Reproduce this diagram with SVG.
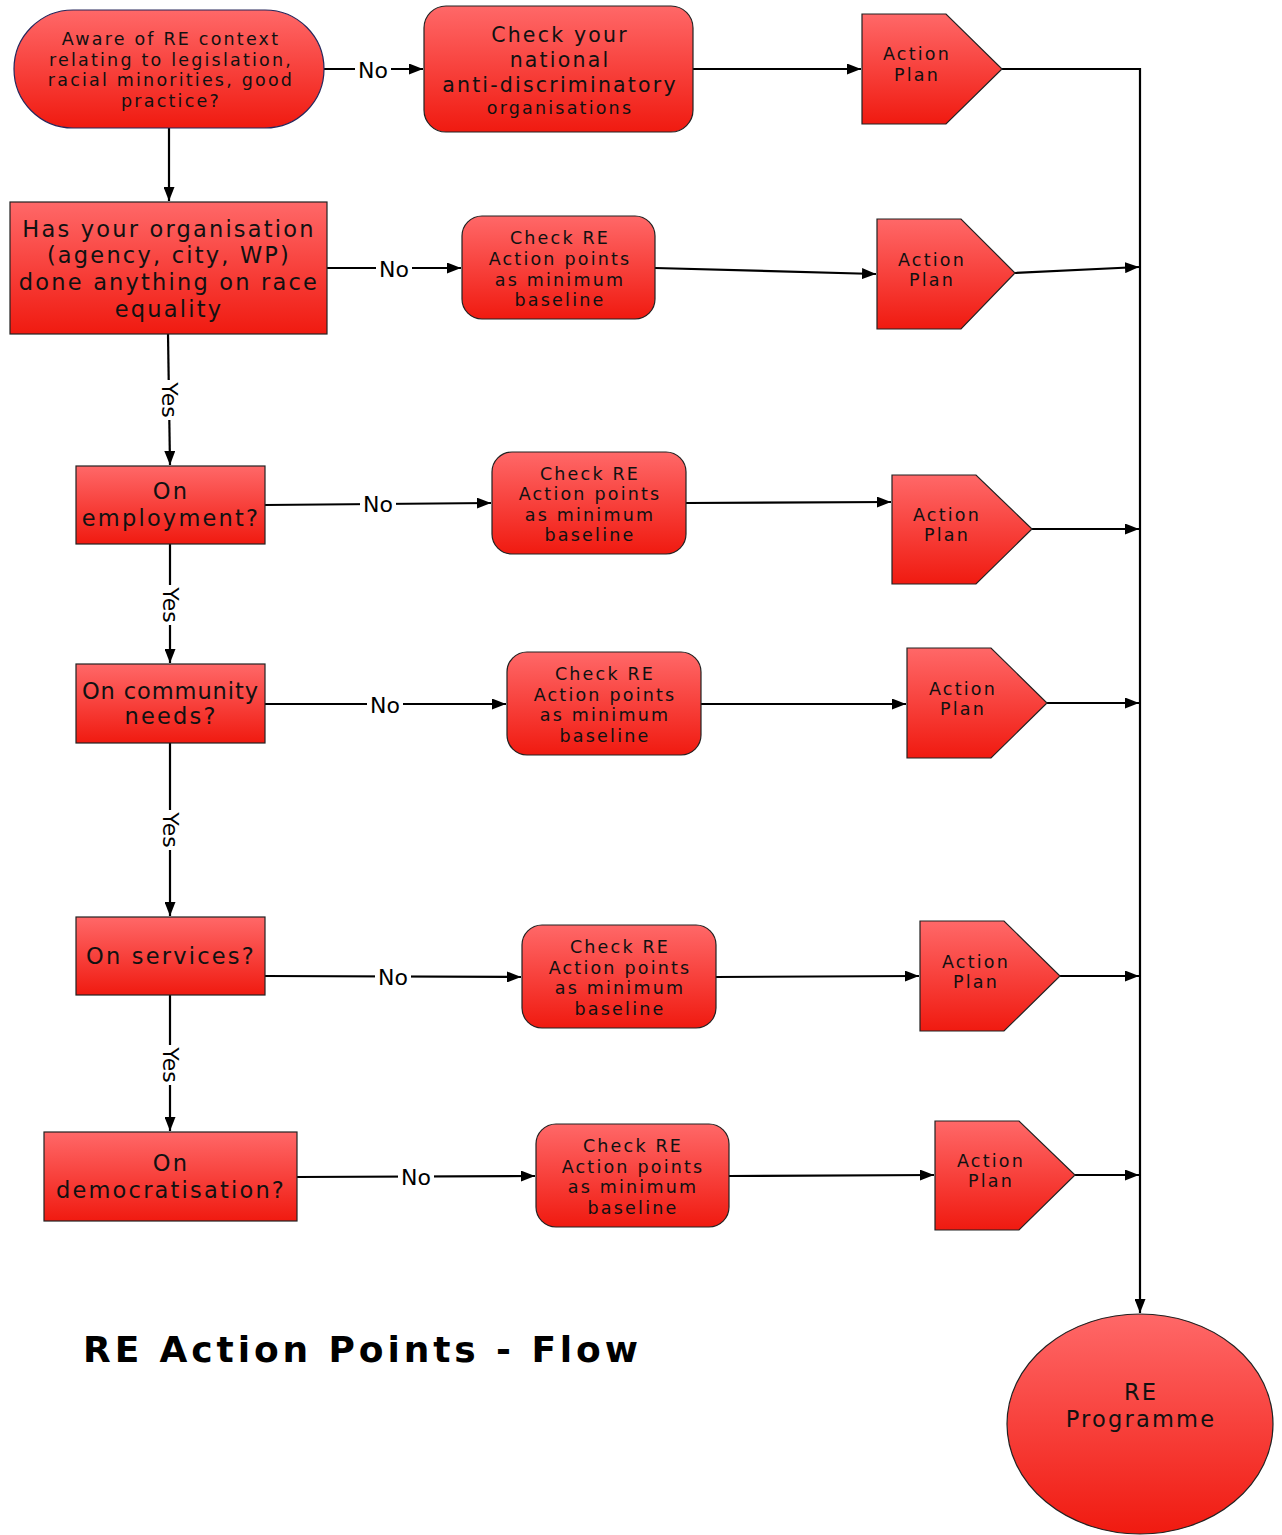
<svg xmlns="http://www.w3.org/2000/svg" width="1282" height="1535" viewBox="0 0 1282 1535">
<defs>
<linearGradient id="g" x1="0" y1="0" x2="0" y2="1">
<stop offset="0" stop-color="#ff6868"/>
<stop offset="1" stop-color="#f01a10"/>
</linearGradient>
<marker id="ah" viewBox="0 0 14 11" refX="14" refY="5.5" markerWidth="14" markerHeight="11" markerUnits="userSpaceOnUse" orient="auto">
<path d="M0,0 L14,5.5 L0,11 Z" fill="#000"/>
</marker>
<style>
.n{fill:url(#g);stroke:#222;stroke-width:1.2}
.t{font-family:"DejaVu Sans",Verdana,sans-serif;fill:#111;text-anchor:middle;letter-spacing:2.2px}
.s17{font-size:17.5px}
.s20{font-size:20.5px}
.s22{font-size:22.5px}
.c{fill:none;stroke:#000;stroke-width:2.2}
.a{marker-end:url(#ah)}
.l{font-family:"DejaVu Sans",Verdana,sans-serif;font-size:22px;fill:#000;text-anchor:middle;dominant-baseline:central}
.lb{fill:#fff}
</style>
</defs>

<g id="connectors">
<line class="c a" x1="324" y1="69" x2="423" y2="69"/>
<line class="c a" x1="693" y1="69" x2="861" y2="69"/>
<polyline class="c a" points="1002,69 1140,69 1140,1313"/>
<line class="c a" x1="169" y1="128" x2="169" y2="201"/>
<line class="c a" x1="327" y1="268" x2="461" y2="268"/>
<line class="c a" x1="655" y1="268" x2="876" y2="274"/>
<line class="c a" x1="1015" y1="273" x2="1139" y2="267"/>
<line class="c a" x1="168" y1="334" x2="170" y2="465"/>
<line class="c a" x1="265" y1="505" x2="491" y2="503"/>
<line class="c a" x1="686" y1="503" x2="891" y2="502"/>
<line class="c a" x1="1032" y1="529" x2="1139" y2="529"/>
<line class="c a" x1="170" y1="544" x2="170" y2="663"/>
<line class="c a" x1="265" y1="704" x2="506" y2="704"/>
<line class="c a" x1="701" y1="704" x2="906" y2="704"/>
<line class="c a" x1="1047" y1="703" x2="1139" y2="703"/>
<line class="c a" x1="170" y1="743" x2="170" y2="916"/>
<line class="c a" x1="265" y1="976" x2="521" y2="977"/>
<line class="c a" x1="716" y1="977" x2="919" y2="976"/>
<line class="c a" x1="1060" y1="976" x2="1139" y2="976"/>
<line class="c a" x1="170" y1="995" x2="170" y2="1131"/>
<line class="c a" x1="297" y1="1177" x2="535" y2="1176"/>
<line class="c a" x1="729" y1="1176" x2="934" y2="1175"/>
<line class="c a" x1="1075" y1="1175" x2="1139" y2="1175"/>
<!-- labels -->
<rect class="lb" x="355" y="58" width="36" height="22"/><text class="l" x="373" y="70">No</text>
<rect class="lb" x="376" y="257" width="36" height="22"/><text class="l" x="394" y="269">No</text>
<rect class="lb" x="360" y="493" width="36" height="22"/><text class="l" x="378" y="504">No</text>
<rect class="lb" x="367" y="693" width="36" height="22"/><text class="l" x="385" y="705">No</text>
<rect class="lb" x="375" y="966" width="36" height="22"/><text class="l" x="393" y="977">No</text>
<rect class="lb" x="398" y="1165" width="36" height="22"/><text class="l" x="416" y="1177">No</text>
<g transform="translate(169,400) rotate(90)"><rect class="lb" x="-20" y="-11" width="40" height="22"/><text class="l" x="0" y="0">Yes</text></g>
<g transform="translate(170,605) rotate(90)"><rect class="lb" x="-20" y="-11" width="40" height="22"/><text class="l" x="0" y="0">Yes</text></g>
<g transform="translate(170,830) rotate(90)"><rect class="lb" x="-20" y="-11" width="40" height="22"/><text class="l" x="0" y="0">Yes</text></g>
<g transform="translate(170,1065) rotate(90)"><rect class="lb" x="-20" y="-11" width="40" height="22"/><text class="l" x="0" y="0">Yes</text></g>
</g>

<g id="aware">
<rect class="n" x="14" y="10" width="310" height="118" rx="59" ry="59" style="stroke:#26265a"/>
<text class="t s17" x="171" y="45">Aware of RE context</text>
<text class="t s17" x="171" y="66">relating to legislation,</text>
<text class="t s17" x="171" y="86">racial minorities, good</text>
<text class="t s17" x="171" y="107">practice?</text>
</g>

<g id="check-national">
<rect class="n" x="424" y="6" width="269" height="126" rx="22" ry="22"/>
<text class="t s20" x="560" y="42">Check your</text>
<text class="t s20" x="560" y="67">national</text>
<text class="t s20" x="560" y="92">anti-discriminatory</text>
<text class="t s17" x="560" y="114">organisations</text>
</g>

<g id="action1">
<polygon class="n" points="862,14 946,14 1002,69 946,124 862,124"/>
<text class="t s17" x="917" y="60">Action</text>
<text class="t s17" x="917" y="81">Plan</text>
</g>

<g id="has-org">
<rect class="n" x="10" y="202" width="317" height="132"/>
<text class="t s22" x="169" y="237">Has your organisation</text>
<text class="t s22" x="169" y="263">(agency, city, WP)</text>
<text class="t s22" x="169" y="290">done anything on race</text>
<text class="t s22" x="169" y="317">equality</text>
</g>

<g id="check1">
<rect class="n" x="462" y="216" width="193" height="103" rx="20" ry="20"/>
<text class="t s17" x="560" y="244">Check RE</text>
<text class="t s17" x="560" y="265">Action points</text>
<text class="t s17" x="560" y="286">as minimum</text>
<text class="t s17" x="560" y="306">baseline</text>
</g>

<g id="action2">
<polygon class="n" points="877,219 961,219 1015,273 961,329 877,329"/>
<text class="t s17" x="932" y="266">Action</text>
<text class="t s17" x="932" y="286">Plan</text>
</g>

<g id="employment">
<rect class="n" x="76" y="466" width="189" height="78"/>
<text class="t s22" x="171" y="499">On</text>
<text class="t s22" x="171" y="526">employment?</text>
</g>

<g id="check2">
<rect class="n" x="492" y="452" width="194" height="102" rx="20" ry="20"/>
<text class="t s17" x="590" y="480">Check RE</text>
<text class="t s17" x="590" y="500">Action points</text>
<text class="t s17" x="590" y="521">as minimum</text>
<text class="t s17" x="590" y="541">baseline</text>
</g>

<g id="action3">
<polygon class="n" points="892,475 976,475 1032,529 976,584 892,584"/>
<text class="t s17" x="947" y="521">Action</text>
<text class="t s17" x="947" y="541">Plan</text>
</g>

<g id="community">
<rect class="n" x="76" y="664" width="189" height="79"/>
<text class="t s22" x="170" y="699" textLength="176" lengthAdjust="spacing" style="letter-spacing:0">On community</text>
<text class="t s22" x="171" y="724">needs?</text>
</g>

<g id="check3">
<rect class="n" x="507" y="652" width="194" height="103" rx="20" ry="20"/>
<text class="t s17" x="605" y="680">Check RE</text>
<text class="t s17" x="605" y="701">Action points</text>
<text class="t s17" x="605" y="721">as minimum</text>
<text class="t s17" x="605" y="742">baseline</text>
</g>

<g id="action4">
<polygon class="n" points="907,648 991,648 1047,703 991,758 907,758"/>
<text class="t s17" x="963" y="695">Action</text>
<text class="t s17" x="963" y="715">Plan</text>
</g>

<g id="services">
<rect class="n" x="76" y="917" width="189" height="78"/>
<text class="t s22" x="171" y="964">On services?</text>
</g>

<g id="check4">
<rect class="n" x="522" y="925" width="194" height="103" rx="20" ry="20"/>
<text class="t s17" x="620" y="953">Check RE</text>
<text class="t s17" x="620" y="974">Action points</text>
<text class="t s17" x="620" y="994">as minimum</text>
<text class="t s17" x="620" y="1015">baseline</text>
</g>

<g id="action5">
<polygon class="n" points="920,921 1004,921 1060,976 1004,1031 920,1031"/>
<text class="t s17" x="976" y="968">Action</text>
<text class="t s17" x="976" y="988">Plan</text>
</g>

<g id="democratisation">
<rect class="n" x="44" y="1132" width="253" height="89"/>
<text class="t s22" x="171" y="1171">On</text>
<text class="t s22" x="171" y="1198">democratisation?</text>
</g>

<g id="check5">
<rect class="n" x="536" y="1124" width="193" height="103" rx="20" ry="20"/>
<text class="t s17" x="633" y="1152">Check RE</text>
<text class="t s17" x="633" y="1173">Action points</text>
<text class="t s17" x="633" y="1193">as minimum</text>
<text class="t s17" x="633" y="1214">baseline</text>
</g>

<g id="action6">
<polygon class="n" points="935,1121 1019,1121 1075,1175 1019,1230 935,1230"/>
<text class="t s17" x="991" y="1167">Action</text>
<text class="t s17" x="991" y="1187">Plan</text>
</g>

<g id="re-programme">
<ellipse class="n" cx="1140" cy="1424" rx="133" ry="110"/>
<text class="t s22" x="1141" y="1400">RE</text>
<text class="t s22" x="1141" y="1427">Programme</text>
</g>

<g id="title">
<text x="83" y="1362" textLength="555" lengthAdjust="spacing" style="font-family:'DejaVu Sans',Verdana,sans-serif;font-weight:bold;font-size:36px;fill:#000">RE Action Points - Flow</text>
</g>
</svg>
